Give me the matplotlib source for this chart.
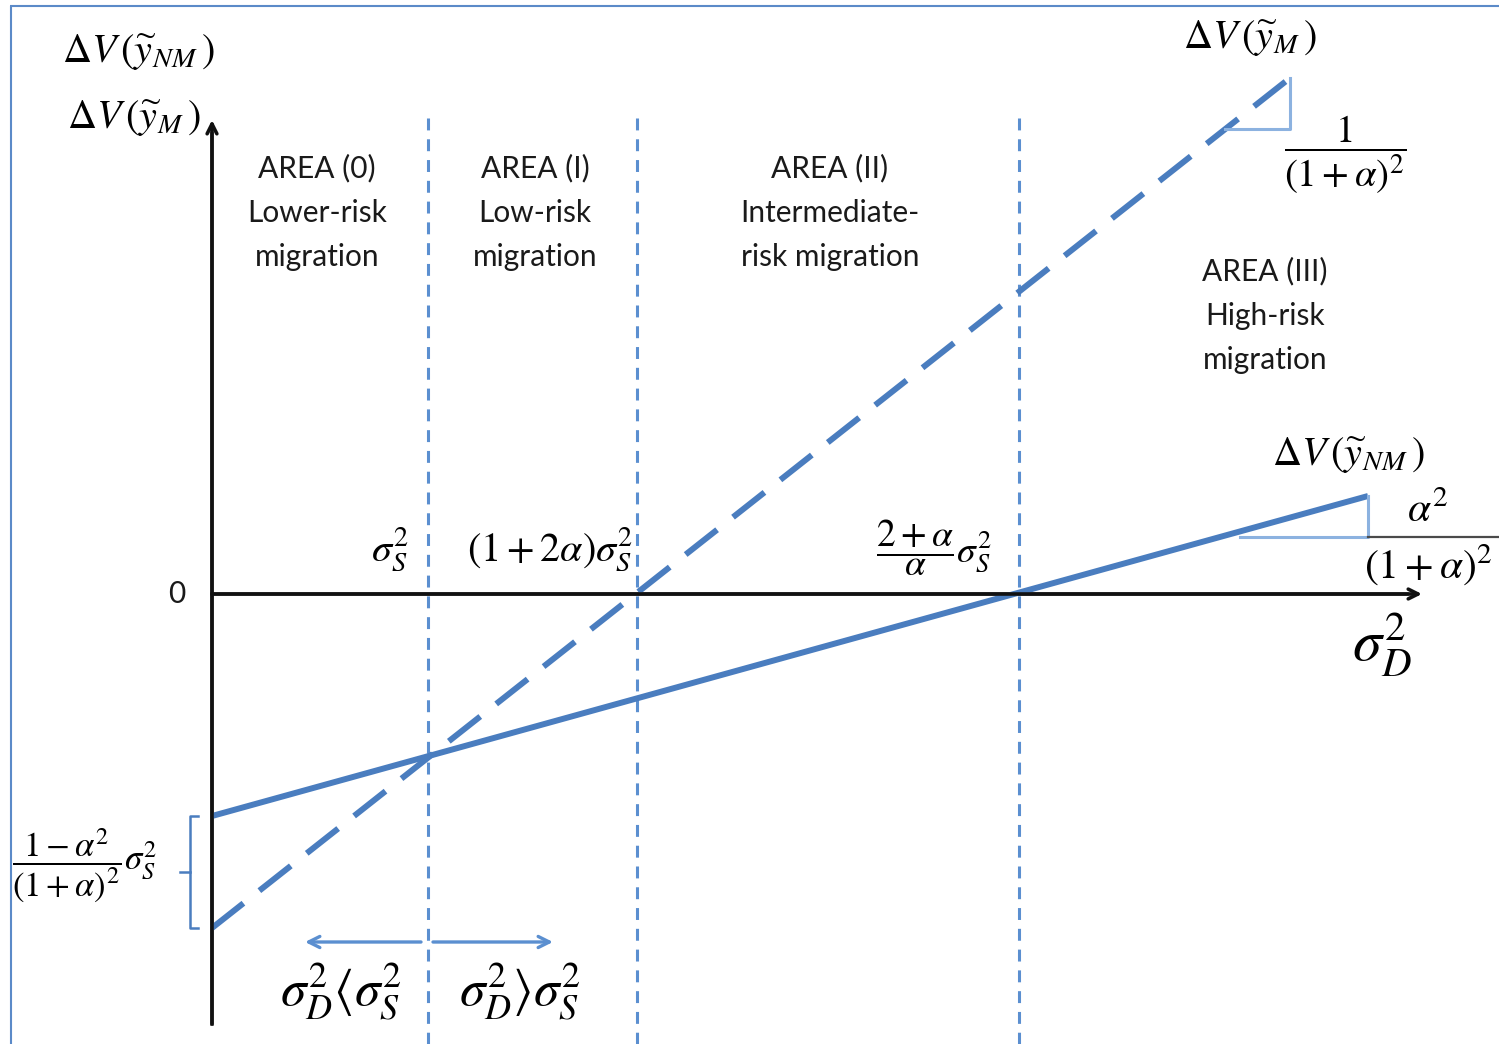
import matplotlib
matplotlib.use("Agg")
import matplotlib.pyplot as plt

plt.rcParams['mathtext.fontset'] = 'stix'
SANS = ['Lato', 'DejaVu Sans']

# ---------------- data (diagram units, origin at the axes crossing) ----------------
boundary_x = [216, 425, 807]            # sigma_S^2, (1+2a)sigma_S^2, (2+a)/a sigma_S^2
boundary_labels = [r'$\sigma_S^2$', r'$(1+2\alpha)\sigma_S^2$', r'$\dfrac{2+\alpha}{\alpha}\sigma_S^2$']
migrant_x = [0, 1078]                   # Delta V(y_M), dashed
migrant_y = [-334, 516]
nonmigrant_x = [0, 1156]                # Delta V(y_NM), solid
nonmigrant_y = [-222, 98]
area_titles = ['AREA (0)', 'AREA (I)', 'AREA (II)', 'AREA (III)']
area_line2 = ['Lower-risk', 'Low-risk', 'Intermediate-', 'High-risk']
area_line3 = ['migration', 'migration', 'risk migration', 'migration']

BLUE = '#4a7dbf'
LIGHT = '#8cb2e0'
VBLUE = '#5b8fd0'
GREY = '#4a4a4a'
TXT = '#1a1a1a'

fig = plt.figure(figsize=(14.99, 10.44), dpi=100)
ax = fig.add_axes([0, 0, 1, 1])
ax.set_xlim(-212, 1287)
ax.set_ylim(-450, 594)
ax.axis('off')

# border (top and left)
ax.plot([-202, 1287], [588, 588], color='#5b8ac8', lw=1.5, solid_capstyle='butt')
ax.plot([-201, -201], [588, -450], color='#5b8ac8', lw=1.5, solid_capstyle='butt')

# vertical dashed boundaries
for bx in boundary_x:
    ax.plot([bx, bx], [476, -450], color=VBLUE, lw=2.2, dashes=(3.9, 2.9))

# axes with arrows
ax.annotate('', xy=(0, 474), xytext=(0, -430),
            arrowprops=dict(arrowstyle='->,head_length=0.7,head_width=0.35', color='#111111', lw=2.6, shrinkA=0, shrinkB=0))
ax.plot([0, 0], [-430, 460], color=GREY, lw=2.6)
ax.annotate('', xy=(1210, 0), xytext=(0, 0),
            arrowprops=dict(arrowstyle='->,head_length=0.7,head_width=0.35', color='#111111', lw=2.6, shrinkA=0, shrinkB=0))
ax.plot([0, 1195], [0, 0], color=GREY, lw=2.6)

# lines
ax.plot(migrant_x, migrant_y, color=BLUE, lw=4.3, dashes=(6.7, 3.4), solid_capstyle='butt')
ax.plot(nonmigrant_x, nonmigrant_y, color=BLUE, lw=4.3, solid_capstyle='butt')

# slope triangles
mslope = (migrant_y[1] - migrant_y[0]) / (migrant_x[1] - migrant_x[0])
tx0 = migrant_x[1] - 65
ax.plot([tx0, migrant_x[1], migrant_x[1]],
        [migrant_y[0] + mslope * tx0, migrant_y[0] + mslope * tx0, migrant_y[1]],
        color=LIGHT, lw=2.2)
tx1 = nonmigrant_x[1] - 128
ty1 = nonmigrant_y[1] - 41
ax.plot([tx1, nonmigrant_x[1], nonmigrant_x[1]], [ty1, ty1, nonmigrant_y[1]], color=LIGHT, lw=2.2)
# fraction bar alpha^2/(1+alpha)^2
ax.plot([nonmigrant_x[1], 1287], [ty1, ty1], color=GREY, lw=1.6)

# area texts
area_cx = [105, 323, 618, 1053]
area_top = [426, 426, 426, 323]
for cx, ty, t1, t2, t3 in zip(area_cx, area_top, area_titles, area_line2, area_line3):
    for k, s in enumerate([t1, t2, t3]):
        ax.text(cx, ty - 44.5 * k, s, ha='center', va='center', fontsize=21.5, family=SANS, color=TXT)

# axis-origin label
ax.text(-35, 0, '0', ha='center', va='center', fontsize=21.5, family=SANS, color=TXT)

# boundary labels
ax.text(boundary_x[0] - 38, 44, boundary_labels[0], ha='center', va='center', fontsize=29)
ax.text(boundary_x[1] - 87, 44, boundary_labels[1], ha='center', va='center', fontsize=29)
ax.text(boundary_x[2] - 85, 46, boundary_labels[2], ha='center', va='center', fontsize=27)

# axis labels
ax.text(-74, 542, r'$\Delta V\,(\widetilde{y}_{NM}\,)$', ha='center', va='center', fontsize=29)
ax.text(-78, 476, r'$\Delta V\,(\widetilde{y}_{M}\,)$', ha='center', va='center', fontsize=29)
ax.text(1170, -51, r'$\sigma_D^2$', ha='center', va='center', fontsize=42)

# right labels
ax.text(1038, 556, r'$\Delta V\,(\widetilde{y}_{M}\,)$', ha='center', va='center', fontsize=29)
ax.text(1133, 439, r'$\dfrac{1}{(1+\alpha)^2}$', ha='center', va='center', fontsize=28)
ax.text(1136, 139, r'$\Delta V\,(\widetilde{y}_{NM}\,)$', ha='center', va='center', fontsize=29)
ax.text(1216, 84, r'$\alpha^2$', ha='center', va='center', fontsize=30)
ax.text(1216, 29, r'$(1+\alpha)^2$', ha='center', va='center', fontsize=30)

# left intercept-gap label and bracket
ax.text(-127, -271, r'$\dfrac{1-\alpha^2}{(1+\alpha)^2}\sigma_S^2$', ha='center', va='center', fontsize=25)
ax.plot([-14, -22, -22, -14], [nonmigrant_y[0], nonmigrant_y[0], migrant_y[0], migrant_y[0]], color=BLUE, lw=1.8)
ax.plot([-22, -32], [(nonmigrant_y[0] + migrant_y[0]) / 2] * 2, color=BLUE, lw=1.8)

# direction arrows
ax.annotate('', xy=(93, -348), xytext=(209, -348),
            arrowprops=dict(arrowstyle='->,head_length=0.8,head_width=0.4', color=VBLUE, lw=2.4, shrinkA=0, shrinkB=0))
ax.annotate('', xy=(341, -348), xytext=(221, -348),
            arrowprops=dict(arrowstyle='->,head_length=0.8,head_width=0.4', color=VBLUE, lw=2.4, shrinkA=0, shrinkB=0))
ax.text(129, -397, r'$\sigma_D^2\langle\sigma_S^2$', ha='center', va='center', fontsize=37)
ax.text(308, -397, r'$\sigma_D^2\rangle\sigma_S^2$', ha='center', va='center', fontsize=37)

fig.savefig('out.png', dpi=100)
